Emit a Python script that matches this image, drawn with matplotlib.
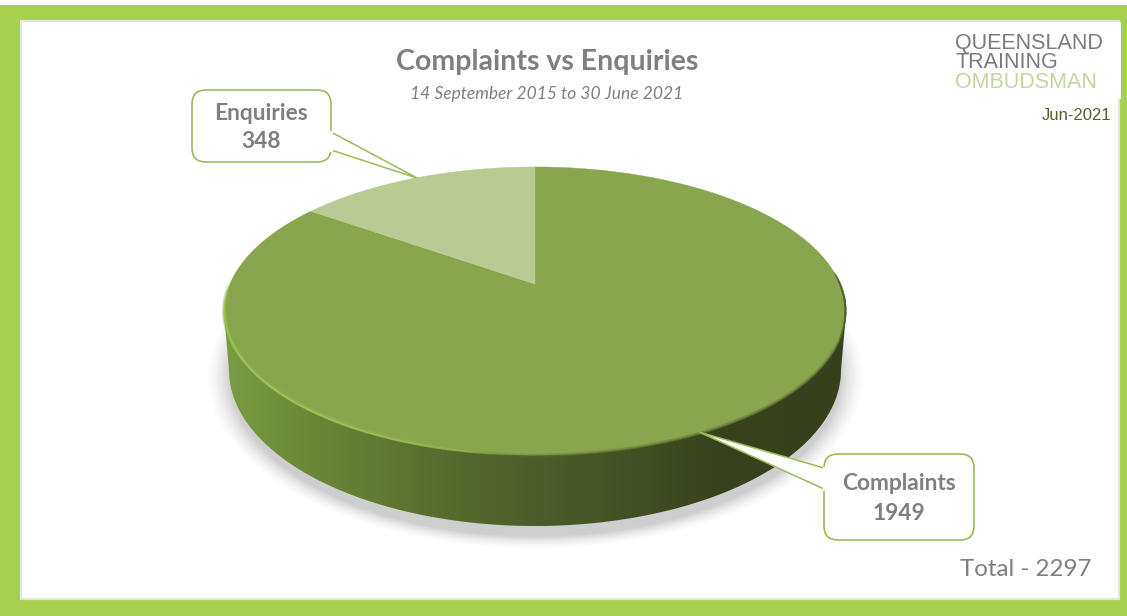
import numpy as np
import matplotlib
matplotlib.use("Agg")
import matplotlib.pyplot as plt
from matplotlib.collections import LineCollection
from matplotlib.colors import to_rgb
from matplotlib.patches import FancyBboxPatch, Polygon, Rectangle

# data
categories = ["Complaints", "Enquiries"]
values = [1949, 348]
total = 2297

plt.rcParams["font.family"] = ["Lato", "DejaVu Sans"]

fig = plt.figure(figsize=(11.27, 6.16), dpi=100, facecolor="white")
ax = fig.add_axes([0, 0, 1, 1])
ax.set_xlim(0, 1127)
ax.set_ylim(616, 0)
ax.axis("off")

# frame
ax.add_patch(Rectangle((0, 5), 1127, 611, fc="#A6D04D", ec="none", zorder=0))
ax.add_patch(Rectangle((21, 21), 1098, 578, fc="white", ec="#E2E4DE", lw=1.6, zorder=1))
ax.add_patch(Rectangle((1117, 22), 4, 77, fc="white", ec="none", zorder=1))

# pie geometry, a tilted disc in perspective
CX, CY = 535, 284
GAMMA, ALPHA, BETA = 305, 139, 0.1875
# lower edge of the wall
LOW_CY, LOW_A, LOW_B = 370, 306, 156


def project(t):
    # t is clockwise from twelve o'clock, in radians
    u, v = np.sin(t), np.cos(t)
    d = 1 + BETA * v
    return CX + GAMMA * u / d, CY - ALPHA * v / d


def rim(deg0, deg1, color, lw, alpha, zorder=5, dy=0.0):
    # line along the top face edge that fades out at both ends
    t = np.radians(np.linspace(deg0, deg1, 200))
    xs, ys = project(t)
    pts = np.column_stack([xs, ys + dy]).reshape(-1, 1, 2)
    segs = np.concatenate([pts[:-1], pts[1:]], axis=1)
    fade = np.sin(np.linspace(0, np.pi, len(segs))) ** 0.6
    cols = [to_rgb(color) + (alpha * f,) for f in fade]
    ax.add_collection(LineCollection(segs, colors=cols, linewidths=lw, zorder=zorder, capstyle="round"))


# soft shadow below the disc
yy, xx = np.mgrid[300:570, 190:900]
dist = np.sqrt(((xx - 535) / 321.0) ** 2 + ((yy - 376) / 168.0) ** 2)
shadow = np.zeros(xx.shape + (4,))
shadow[..., :3] = 0.55
shadow[..., 3] = np.clip((1.03 - dist) / 0.08, 0, 1) ** 1.6 * 0.42
ax.imshow(shadow, extent=(190, 900, 570, 300), zorder=2, interpolation="bilinear", aspect="auto")

# side wall with a horizontal gradient
a = np.radians(np.linspace(180, 360, 300))
low_x = CX + LOW_A * np.cos(a)
low_y = LOW_CY - LOW_B * np.sin(a)
wall_pts = np.vstack([[[224, 313]], np.column_stack([low_x, low_y]), [[846, 313]]])
wall = Polygon(wall_pts, closed=True, fc="none", ec="none", zorder=3)
ax.add_patch(wall)
stops_x = [224, 300, 420, 535, 640, 720, 845]
stops_c = np.array([[0x7A, 0x9C, 0x42], [0x6C, 0x8A, 0x39], [0x5A, 0x70, 0x30], [0x4C, 0x5E, 0x29],
                    [0x41, 0x4F, 0x22], [0x38, 0x42, 0x1D], [0x37, 0x40, 0x1C]]) / 255
grad_x = np.arange(220, 850)
grad = np.stack([np.interp(grad_x, stops_x, stops_c[:, i]) for i in range(3)], axis=-1)[None, :, :]
im = ax.imshow(grad, extent=(220, 850, 540, 290), zorder=3, aspect="auto", interpolation="bilinear")
im.set_clip_path(wall)
ax.set_xlim(0, 1127)
ax.set_ylim(616, 0)

# top face slices, from the values
fracs = np.array(values) / sum(values)
t_split = 2 * np.pi * fracs[0]
slice_colors = ["#89A54E", "#B9CB92"]
spans = [(0, t_split), (t_split, 2 * np.pi)]
for (s0, s1), col in zip(spans, slice_colors):
    t = np.linspace(s0, s1, 400)
    xs, ys = project(t)
    pts = np.column_stack([np.r_[CX, xs], np.r_[CY, ys]])
    ax.add_patch(Polygon(pts, closed=True, fc=col, ec=col, lw=0.3, zorder=4))

# bevel highlight on the near left rim, dark soft edge on the right
rim(185, 270, "#8FB24D", 3.4, 0.3, dy=-1)
rim(185, 270, "#9CC556", 1.4, 0.8)
rim(85, 112, "#4F5F2A", 1.4, 0.55)
rim(108, 190, "#6A8039", 2.2, 0.4)


def callout(x0, y0, x1, y1, tip, base_a, base_b, lines):
    # rounded box with a pointer
    r = 14
    box = FancyBboxPatch((x0 + r, y0 + r), x1 - x0 - 2 * r, y1 - y0 - 2 * r,
                         boxstyle=f"round,pad={r},rounding_size={r}",
                         fc="white", ec="#9BBB59", lw=1.2, zorder=7)
    ax.add_patch(box)
    ax.add_patch(Polygon([base_a, tip, base_b], closed=True, fc="white", ec="#9BBB59", lw=1.1,
                         zorder=8, joinstyle="miter"))
    # hide the bit of box outline under the pointer mouth
    ax.plot([base_a[0], base_b[0]], [base_a[1], base_b[1]], color="white", lw=2.2, zorder=9)
    for txt, yt in lines:
        ax.text((x0 + x1) / 2, yt, txt, ha="center", va="center", fontsize=16.4, fontweight="bold",
                color="#7F7F7F", zorder=10)


callout(192, 90, 331, 162, (417, 178), (331, 132), (331, 150),
        [(categories[1], 113), (str(values[1]), 142)])
callout(824, 454, 974, 540, (699, 432), (824, 468), (824, 489),
        [(categories[0], 484), (str(values[0]), 513)])

# titles
ax.text(547.5, 62, "Complaints vs Enquiries", ha="center", va="center", fontsize=20.5,
        fontweight="bold", color="#7F7F7F", zorder=10)
ax.text(546.5, 94, "14 September 2015 to 30 June 2021", ha="center", va="center", fontsize=12.5,
        style="italic", color="#7F7F7F", zorder=10)
ax.text(1091, 569, f"Total - {total}", ha="right", va="center", fontsize=17.4, color="#7F7F7F", zorder=10)

# logo
ax.text(955, 43, "QUEENSLAND", ha="left", va="center", fontsize=15.5, color="#7A7A7A",
        family=["Liberation Sans"], zorder=10)
ax.text(955, 62, "TRAINING", ha="left", va="center", fontsize=15.5, color="#7A7A7A",
        family=["Liberation Sans"], zorder=10)
ax.text(955, 82, "OMBUDSMAN", ha="left", va="center", fontsize=15.5, color="#C3D69B",
        family=["Liberation Sans"], zorder=10)
ax.text(1111, 116, "Jun-2021", ha="right", va="center", fontsize=12, color="#4F6228",
        family=["Liberation Sans"], zorder=10)

fig.savefig("out.png", dpi=100)
